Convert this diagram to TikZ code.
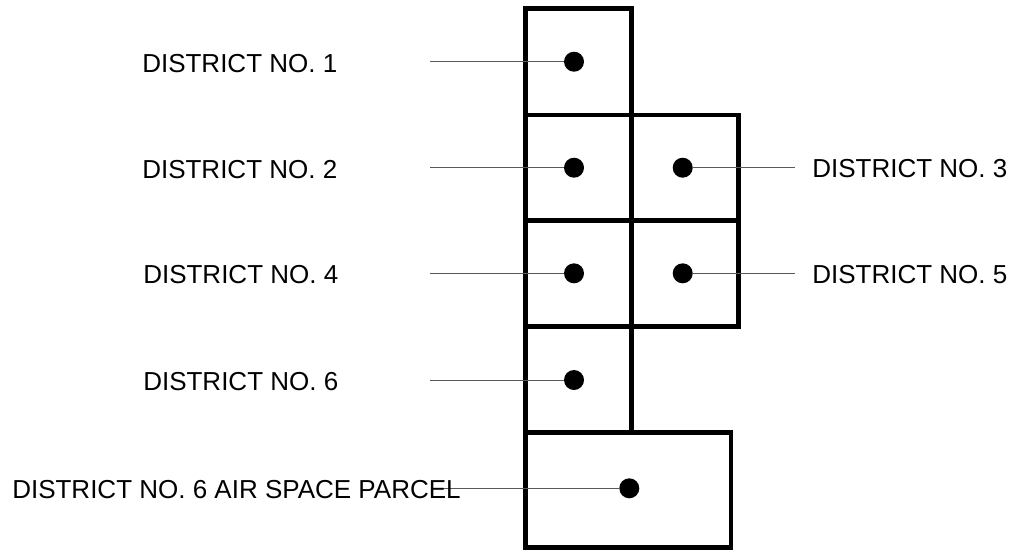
\documentclass[tikz,border=0pt]{standalone}
\usepackage{fontspec}
\setmainfont{Liberation Sans}
\usetikzlibrary{positioning}

\begin{document}
\begin{tikzpicture}[x=0.75pt,y=-0.75pt,
  parcel/.style={line width=3.5pt},
  dot/.style={circle,fill,inner sep=0pt,minimum size=15pt},
  leader/.style={line width=0.75pt,black!65},
  lbl/.style={font=\fontsize{19.5}{22}\selectfont,inner sep=0pt}]

\useasboundingbox (0,0) rectangle (1019,551);

\draw[parcel] (525.7,8.3) rectangle (631.7,115);
\draw[parcel] (525.7,115) rectangle (631.7,220.7);
\draw[parcel] (631.7,115) rectangle (738.3,220.7);
\draw[parcel] (525.7,220.7) rectangle (631.7,326.7);
\draw[parcel] (631.7,220.7) rectangle (738.3,326.7);
\draw[parcel] (525.7,326.7) rectangle (631.7,432.7);
\draw[parcel] (525.7,432.7) rectangle (731,547.3);

\node[dot] (d1) at (574,61.7) {};
\node[dot] (d2) at (574,167.7) {};
\node[dot] (d3) at (682.7,167.7) {};
\node[dot] (d4) at (574,273.3) {};
\node[dot] (d5) at (682.7,273.3) {};
\node[dot] (d6) at (574,380) {};
\node[dot] (da) at (629.3,488.3) {};

\coordinate (e1) at (430,61.7);
\coordinate (e2) at (430,167.7);
\coordinate (e3) at (795,167.7);
\coordinate (e4) at (430,273.3);
\coordinate (e5) at (795,273.3);
\coordinate (e6) at (430,380);
\coordinate (ea) at (442,488.3);

\draw[leader] (e1) -- (d1);
\draw[leader] (e2) -- (d2);
\draw[leader] (d3) -- (e3);
\draw[leader] (e4) -- (d4);
\draw[leader] (d5) -- (e5);
\draw[leader] (e6) -- (d6);
\draw[leader] (ea) -- (da);

\node[lbl,anchor=base west] (l1) at (142,72.3) {DISTRICT NO. 1};
\node[lbl,anchor=base west] (l2) at (142,178.2) {DISTRICT NO. 2};
\node[lbl,anchor=base west] (l3) at (812,177.5) {DISTRICT NO. 3};
\node[lbl,anchor=base west] (l4) at (143,283.8) {DISTRICT NO. 4};
\node[lbl,anchor=base west] (l5) at (812,283.3) {DISTRICT NO. 5};
\node[lbl,anchor=base west] (l6) at (143,390.5) {DISTRICT NO. 6};
\node[lbl,anchor=base west] (la) at (12,498) {DISTRICT NO. 6 AIR SPACE PARCEL};

\end{tikzpicture}
\end{document}
